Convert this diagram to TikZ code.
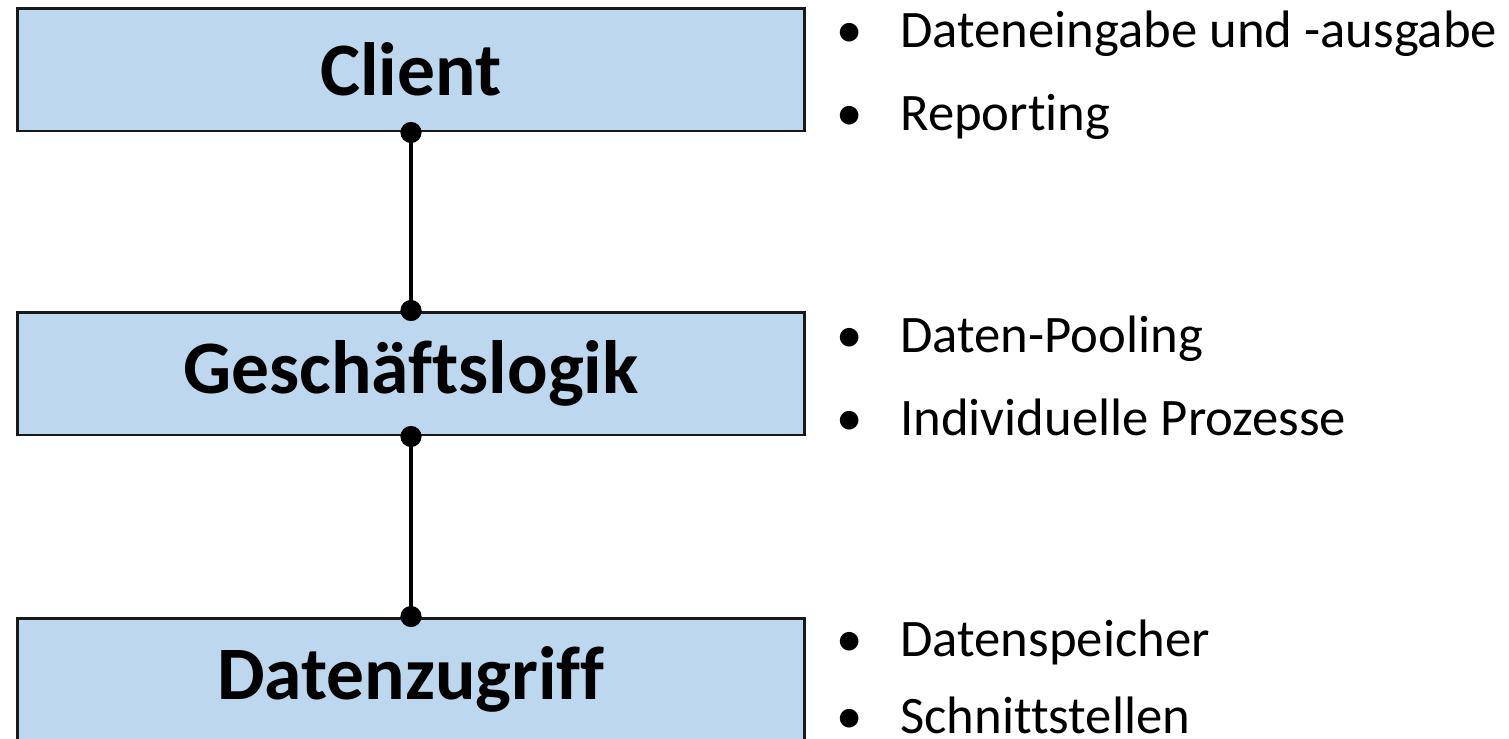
\documentclass[tikz,border=0pt]{standalone}
\usepackage{fontspec}
\setmainfont{Carlito}[Ligatures={NoCommon}]
\usetikzlibrary{arrows.meta}
\definecolor{layerblue}{HTML}{BDD7EE}
\newcommand{\bul}{\makebox[1.28cm][l]{\textbullet}}
\tikzset{
  layer/.style={draw=black!90,line width=1.7pt,fill=layerblue,minimum width=15.76cm,minimum height=2.46cm,inner sep=0pt,font=\bfseries\fontsize{43}{50}\selectfont},
  item/.style={anchor=base west,inner sep=0pt,font=\fontsize{30}{36}\selectfont},
  link/.style={line width=2.3pt,{Circle[length=12pt]}-{Circle[length=12pt]},shorten <=-6pt,shorten >=-6pt}
}
\begin{document}
\begin{tikzpicture}[x=0.02cm,y=-0.02cm]
        \useasboundingbox (0,0) rectangle (1509,738);
        % Schichten
        \node[layer] (client) at (411,69.5) {Client};
        \node[layer] (logik) at (411,373.5) {Geschäftslogik};
        \node[layer] (daten) at (411,679.5) {Datenzugriff};
        \draw[link] (client.south) -- (logik.north);
        \draw[link] (logik.south) -- (daten.north);
        % Aufgaben
        \node[item] (c1) at (836,47) {\bul Dateneingabe und -ausgabe};
        \node[item] (c2) at (836,130) {\bul Reporting};
        \node[item] (l1) at (836,352) {\bul Daten-Pooling};
        \node[item] (l2) at (836,435) {\bul Individuelle Prozesse};
        \node[item] (d1) at (836,656) {\bul Datenspeicher};
        \node[item] (d2) at (836,733) {\bul Schnittstellen};
    \end{tikzpicture}
\end{document}
